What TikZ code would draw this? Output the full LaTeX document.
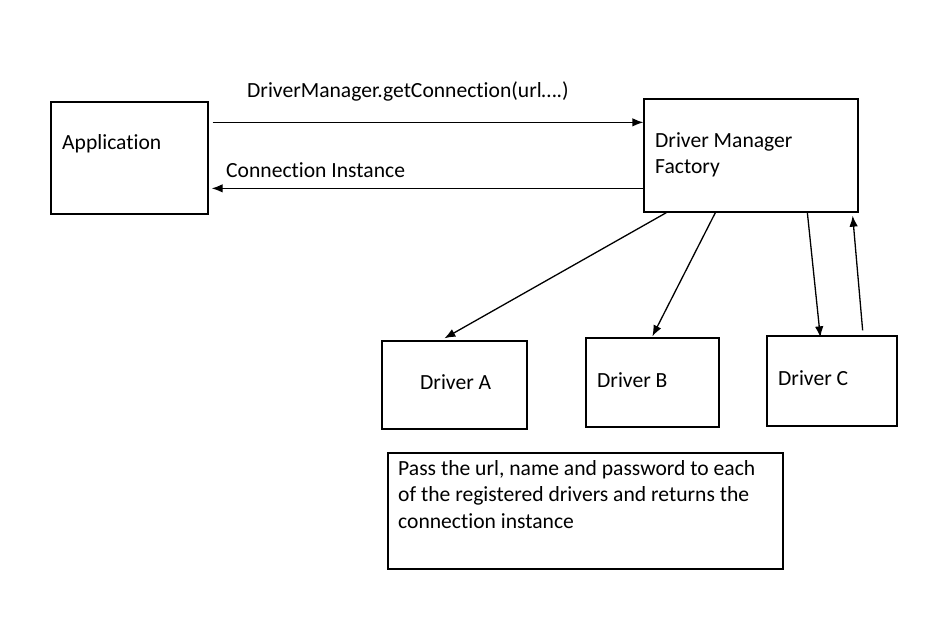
\documentclass[tikz,border=0pt]{standalone}
\usepackage{fontspec}
\setmainfont[Ligatures=NoCommon]{Carlito}
\usetikzlibrary{arrows.meta,calc}

\begin{document}
\begin{tikzpicture}[x=1pt,y=-1pt,
	box/.style={draw,line width=1.3pt,inner sep=0pt},
	lbl/.style={inner sep=0pt,font=\fontsize{21.6}{26.5}\selectfont},
	arr/.style={line width=1.3pt,-{Latex[length=11pt,width=8.5pt]}}]
	\useasboundingbox (0,0) rectangle (939,629);
	% boxes
	\node[box,minimum width=157pt,minimum height=112pt] (app) at (129.5,158) {};
	\node[box,minimum width=214pt,minimum height=113pt] (dmf) at (751,155.5) {};
	\node[box,minimum width=145pt,minimum height=88pt] (drvA) at (454.5,385) {};
	\node[box,minimum width=133pt,minimum height=89pt] (drvB) at (652.5,382.5) {};
	\node[box,minimum width=130pt,minimum height=90pt] (drvC) at (832,381) {};
	\node[box,minimum width=395pt,minimum height=116pt] (note) at (585.5,511) {};
	% texts
	\node[lbl,anchor=west] (appT) at (62,144) {Application};
	\node[lbl,anchor=north west,align=left] (dmfT) at (655,132) {Driver Manager\\Factory};
	\node[lbl,anchor=west] (drvAT) at (420,382) {Driver A};
	\node[lbl,anchor=west] (drvBT) at (597,380) {Driver B};
	\node[lbl,anchor=west] (drvCT) at (778,378) {Driver C};
	\node[lbl,anchor=north west,align=left] (noteT) at (398,460) {Pass the url, name and password to each\\of the registered drivers and returns the\\connection instance};
	\node[lbl,anchor=west] (callT) at (247,91) {DriverManager.getConnection(url….)};
	\node[lbl,anchor=west] (retT) at (226,170) {Connection Instance};
	% arrows
	\draw[arr] ($(app.north east)+(4,21)$) -- ($(dmf.north west)+(0,24)$);
	\draw[arr] ($(dmf.north west)+(0,90)$) -- ($(app.north east)+(3,87)$);
	\draw[arr] ($(dmf.south west)+(23,0)$) -- ($(drvA.north west)+(63,-2)$);
	\draw[arr] ($(dmf.south west)+(72,0)$) -- ($(drvB.north west)+(67,-1)$);
	\draw[arr] ($(dmf.south west)+(164,0)$) -- ($(drvC.north west)+(54,2)$);
	\draw[arr] ($(drvC.north east)+(-35,-5)$) -- ($(dmf.south east)+(-6,3)$);
\end{tikzpicture}
\end{document}
